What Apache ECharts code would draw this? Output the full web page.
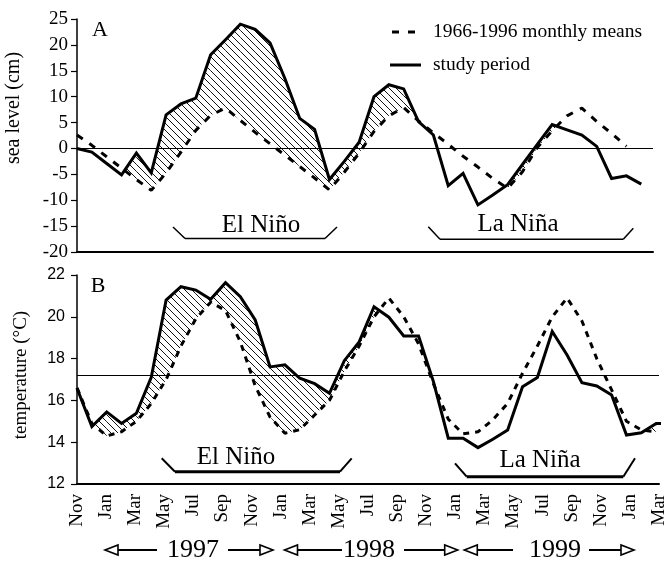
<!DOCTYPE html>
<html><head><meta charset="utf-8">
<script src="https://cdn.jsdelivr.net/npm/echarts@6/dist/echarts.min.js"></script>
<style>html,body{margin:0;padding:0;background:#fff}#c{width:671px;height:561px}</style>
</head><body><div id="c"></div>
<script>
// ---- data (index 0 = Nov 1996, monthly) ----
const monthLabels = ['Nov','Dec','Jan','Feb','Mar','Apr','May','Jun','Jul','Aug','Sep','Oct',
  'Nov','Dec','Jan','Feb','Mar','Apr','May','Jun','Jul','Aug','Sep','Oct',
  'Nov','Dec','Jan','Feb','Mar','Apr','May','Jun','Jul','Aug','Sep','Oct',
  'Nov','Dec','Jan','Feb','Mar'];
const seaStudy = [0,-0.7,-2.9,-5.1,-0.9,-4.7,6.5,8.6,9.7,18.1,21.0,24.0,23.0,20.4,13.5,5.8,3.7,-6.0,
  -2.5,1.2,10.0,12.3,11.5,5.2,2.6,-7.2,-4.8,-10.9,-9.0,-7.0,-3.1,0.8,4.6,3.6,2.6,0.4,-5.8,-5.3,-6.9];
const seaMeans = [2.6,0.6,-1.6,-3.8,-6.0,-8.1,-4.7,-0.7,3.5,6.4,7.8,5.4,
  3.1,0.9,-1.3,-3.5,-5.7,-8.0,-4.6,-0.9,3.3,6.3,7.9,5.3,
  3.0,0.8,-1.5,-3.6,-5.8,-7.7,-4.5,0.2,3.4,6.3,7.8,5.2,2.9,0.4];
const tempStudy = [16.58,14.75,15.45,14.9,15.38,17.1,20.8,21.44,21.28,20.84,21.63,20.96,19.85,17.6,17.7,17.06,16.8,16.34,
  17.9,18.8,20.48,19.98,19.08,19.08,16.9,14.19,14.19,13.74,14.14,14.58,16.65,17.1,19.3,18.17,16.85,16.69,16.26,14.34,14.45,14.9,14.9];
const tempMeans = [16.6,14.9,14.3,14.5,15.0,15.85,17.0,18.6,19.9,20.7,20.3,18.8,
  16.7,15.2,14.43,14.6,15.3,16.0,17.4,18.6,20.0,20.9,20.0,18.7,
  16.8,15.1,14.4,14.5,15.07,15.86,17.3,18.6,20.0,20.9,19.8,18.0,16.5,15.0,14.59,14.5];
const seaRef = 0;
const tempRef = 17.22;
const yearLabels = ['1997','1998','1999'];
const nameMeans = '1966-1996 monthly means';
const nameStudy = 'study period';

const SERIF = '"Liberation Serif","Times New Roman",serif';
const SANS = '"Liberation Sans",Arial,sans-serif';

// hatch pattern
const pc = document.createElement('canvas');
const PS = 7; pc.width = PS; pc.height = PS;
const pctx = pc.getContext('2d');
pctx.strokeStyle = '#111'; pctx.lineWidth = 1;
pctx.beginPath();
for (const k of [-PS, 0, PS]) { pctx.moveTo(k, 0); pctx.lineTo(k + PS, PS); }
pctx.stroke();
const hatchFill = { image: pc, repeat: 'repeat' };

function hatchRender(solid, means) {
  return function (params, api) {
    const i = api.value(0);
    if (i + 1 >= means.length || i + 1 >= solid.length) return;
    const s0 = solid[i], s1 = solid[i + 1], m0 = means[i], m1 = means[i + 1];
    const d0 = s0 - m0, d1 = s1 - m1;
    const P = (x, v) => api.coord([x, v]);
    let pts;
    if (d0 >= 0 && d1 >= 0) pts = [P(i, s0), P(i + 1, s1), P(i + 1, m1), P(i, m0)];
    else if (d0 > 0 && d1 < 0) { const t = d0 / (d0 - d1); pts = [P(i, s0), P(i + t, s0 + t * (s1 - s0)), P(i, m0)]; }
    else if (d0 < 0 && d1 > 0) { const t = d0 / (d0 - d1); pts = [P(i + t, s0 + t * (s1 - s0)), P(i + 1, s1), P(i + 1, m1)]; }
    else return;
    return { type: 'polygon', shape: { points: pts }, style: { fill: hatchFill, stroke: null } };
  };
}
const toXY = arr => arr.map((v, i) => [i, v]);
const segs = n => Array.from({ length: n }, (_, i) => [i, 0]);

// annotation helpers
const g = [];
function txt(x, y, s, size, font, extra, align) {
  g.push(Object.assign({ type: 'text', x: x, y: y, style: { text: s, fontSize: size, fontFamily: font, fill: '#000', align: align || 'center', verticalAlign: 'middle' }, silent: true }, extra || {}));
}
function pl(points, w) { g.push({ type: 'polyline', shape: { points: points }, style: { stroke: '#000', lineWidth: w, fill: null }, silent: true }); }
function bracket(p, wDiag, wBar) {
  pl([p[0], p[1]], wDiag); pl([p[1], p[2]], wBar); pl([p[2], p[3]], wDiag);
}
// legend (drawn as annotation)
pl([[392, 32], [399, 32]], 3); pl([[408, 32], [415, 32]], 3);
txt(433, 31.5, nameMeans, 19.5, SERIF, null, 'left');
pl([[390, 65], [421, 65]], 3);
txt(433, 64.5, nameStudy, 19.5, SERIF, null, 'left');
// panel letters
txt(100, 30.5, 'A', 22, SERIF);
txt(98, 286, 'B', 22, SERIF);
// axis titles
txt(14, 108, 'sea level (cm)', 20, SERIF, { rotation: Math.PI / 2 });
txt(21.5, 375, 'temperature (°C)', 19, SERIF, { rotation: Math.PI / 2 });
// event brackets
bracket([[173, 227], [185, 238.5], [325, 238.5], [337, 227]], 1.5, 1.5);
txt(261, 225, 'El Niño', 25, SERIF);
bracket([[428.3, 226.7], [440, 239.3], [623.3, 239.3], [633.3, 228.3]], 1.5, 1.5);
txt(518, 224.5, 'La Niña', 25, SERIF);
bracket([[161.7, 458.3], [175, 471.7], [340, 471.7], [351.7, 458.3]], 2, 3);
txt(236, 457, 'El Niño', 25, SERIF);
bracket([[455, 463.3], [466.7, 476.7], [623.3, 476.7], [635, 458.3]], 2, 3);
txt(540, 460, 'La Niña', 25, SERIF);
// year arrows
function arrowHead(tip, dir, y) {
  const b = tip - dir * 13;
  g.push({ type: 'polygon', shape: { points: [[tip, y], [b, y - 5], [b, y + 5]] }, style: { stroke: '#000', lineWidth: 1.6, fill: '#fff' }, silent: true });
}
const ay = 550;
const arrowSpec = [
  { tl: 105, l1: 157, c: 193, r0: 228, tr: 273 },
  { tl: 284.5, l1: 342, c: 369, r0: 404, tr: 457.7 },
  { tl: 464.3, l1: 513, c: 555, r0: 589, tr: 634 }
];
arrowSpec.forEach((a, k) => {
  pl([[a.tl + 13, ay], [a.l1, ay]], 2);
  arrowHead(a.tl, -1, ay);
  pl([[a.r0, ay], [a.tr - 13, ay]], 2);
  arrowHead(a.tr, 1, ay);
  txt(a.c, ay, yearLabels[k], 26, SERIF);
});

const chart = echarts.init(document.getElementById('c'), null, { renderer: 'canvas' });
const solidStyle = { color: '#000', width: 3, type: 'solid', join: 'miter' };
chart.setOption({
  animation: false,
  backgroundColor: '#fff',
  grid: [
    { left: 77, top: 19, width: 576, height: 233 },
    { left: 77, top: 275, width: 582, height: 209 }
  ],
  xAxis: [
    { type: 'value', gridIndex: 0, min: 0, max: 38.79, splitLine: { show: false },
      axisLine: { show: true, onZero: false, lineStyle: { color: '#000', width: 2 } },
      axisTick: { show: false }, axisLabel: { show: false } },
    { type: 'value', gridIndex: 1, min: 0, max: 39.19, show: false },
    { type: 'category', gridIndex: 1, data: monthLabels, boundaryGap: false, position: 'bottom',
      axisLine: { show: true, onZero: false, lineStyle: { color: '#000', width: 2 } },
      axisTick: { show: false }, splitLine: { show: false },
      axisLabel: { interval: 1, rotate: 90, margin: 10, fontFamily: SERIF, fontSize: 19, color: '#000' } }
  ],
  yAxis: [
    { type: 'value', gridIndex: 0, min: -20, max: 25, interval: 5, splitLine: { show: false },
      axisLine: { show: true, lineStyle: { color: '#000', width: 1.5 } },
      axisTick: { show: true, length: 6, lineStyle: { color: '#000', width: 1.2 } },
      axisLabel: { margin: 9, fontFamily: SERIF, fontSize: 19, color: '#000' } },
    { type: 'value', gridIndex: 1, min: 12, max: 22, interval: 2, splitLine: { show: false },
      axisLine: { show: true, lineStyle: { color: '#000', width: 1.5 } },
      axisTick: { show: true, length: 6, lineStyle: { color: '#000', width: 1.2 } },
      axisLabel: { margin: 12, fontFamily: SANS, fontSize: 16, color: '#000' } }
  ],
  series: [
    { type: 'custom', xAxisIndex: 0, yAxisIndex: 0, data: segs(seaMeans.length - 1), encode: { x: 0, y: 1 },
      renderItem: hatchRender(seaStudy, seaMeans), silent: true, z: 1 },
    { type: 'custom', xAxisIndex: 1, yAxisIndex: 1, data: segs(tempMeans.length - 1), encode: { x: 0, y: 1 },
      renderItem: hatchRender(tempStudy, tempMeans), silent: true, z: 1 },
    { name: nameMeans, type: 'line', xAxisIndex: 0, yAxisIndex: 0, data: toXY(seaMeans), symbol: 'none', z: 3,
      lineStyle: { color: '#000', width: 3, type: [7, 8] }, itemStyle: { color: '#000' } },
    { name: nameStudy, type: 'line', xAxisIndex: 0, yAxisIndex: 0, data: toXY(seaStudy), symbol: 'none', z: 4,
      lineStyle: solidStyle, itemStyle: { color: '#000' },
      markLine: { silent: true, symbol: 'none', label: { show: false }, lineStyle: { color: '#000', width: 1, type: 'solid' },
        data: [{ yAxis: seaRef }] } },
    { name: nameMeans, type: 'line', xAxisIndex: 1, yAxisIndex: 1, data: toXY(tempMeans), symbol: 'none', z: 3,
      lineStyle: { color: '#000', width: 3, type: [6, 6] }, itemStyle: { color: '#000' } },
    { name: nameStudy, type: 'line', xAxisIndex: 1, yAxisIndex: 1, data: toXY(tempStudy), symbol: 'none', z: 4, clip: false,
      lineStyle: solidStyle, itemStyle: { color: '#000' },
      markLine: { silent: true, symbol: 'none', label: { show: false }, lineStyle: { color: '#000', width: 1, type: 'solid' },
        data: [{ yAxis: tempRef }] } }
  ],
  graphic: g
});
</script></body></html>
